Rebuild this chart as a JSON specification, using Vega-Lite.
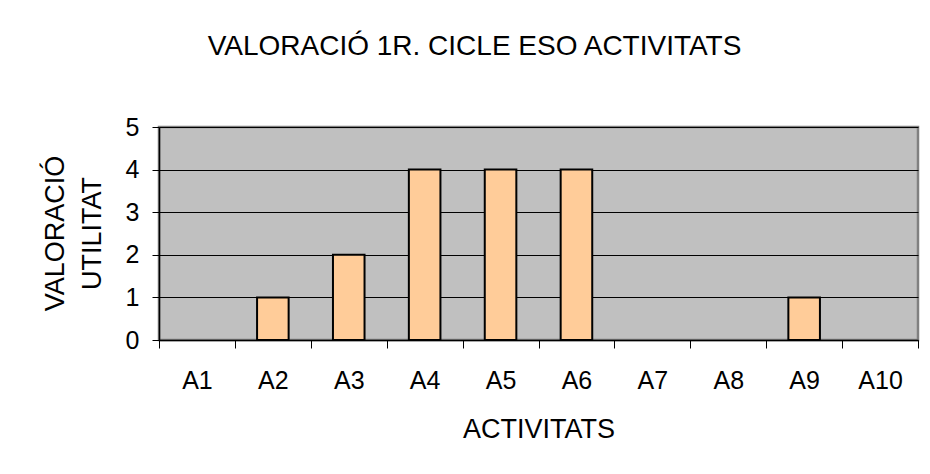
{
  "$schema": "https://vega.github.io/schema/vega-lite/v6.json",
  "autosize": {"type": "none"},
  "width": 759,
  "height": 213,
  "padding": {"left": 159, "top": 127, "right": 12, "bottom": 134},
  "background": "white",
  "title": {
    "text": "VALORACIÓ 1R. CICLE ESO ACTIVITATS",
    "font": "Liberation Sans",
    "fontSize": 28,
    "fontWeight": "normal",
    "color": "black",
    "anchor": "middle",
    "frame": "group",
    "baseline": "alphabetic",
    "offset": 32,
    "dx": -64
  },
  "data": {
    "values": [
      {"activitat": "A1", "valor": 0},
      {"activitat": "A2", "valor": 1},
      {"activitat": "A3", "valor": 2},
      {"activitat": "A4", "valor": 4},
      {"activitat": "A5", "valor": 4},
      {"activitat": "A6", "valor": 4},
      {"activitat": "A7", "valor": 0},
      {"activitat": "A8", "valor": 0},
      {"activitat": "A9", "valor": 1},
      {"activitat": "A10", "valor": 0}
    ]
  },
  "mark": {"type": "bar", "fill": "#FFCC99", "stroke": "black", "strokeWidth": 2, "width": {"band": 0.416}},
  "encoding": {
    "strokeOpacity": {"condition": {"test": "datum.valor > 0", "value": 1}, "value": 0},
    "x": {
      "field": "activitat",
      "type": "nominal",
      "sort": null,
      "scale": {"domain": ["A1","A2","A3","A4","A5","A6","A7","A8","A9","A10"], "paddingInner": 0, "paddingOuter": 0},
      "axis": {
        "title": "ACTIVITATS",
        "titleFont": "Liberation Sans",
        "titleFontSize": 27,
        "titleFontWeight": "normal",
        "titleColor": "black",
        "titleBaseline": "alphabetic",
        "titleY": 97,
        "labelAngle": 0,
        "labelFont": "Liberation Sans",
        "labelFontSize": 25,
        "labelColor": "black",
        "labelBaseline": "alphabetic",
        "labelPadding": 40,
        "tickBand": "extent",
        "tickSize": 8,
        "tickColor": "black",
        "domainColor": "black",
        "domainWidth": 1.5,
        "grid": false
      }
    },
    "y": {
      "field": "valor",
      "type": "quantitative",
      "scale": {"domain": [0, 5], "nice": false},
      "axis": {
        "title": ["VALORACIÓ", "UTILITAT"],
        "titleFont": "Liberation Sans",
        "titleFontSize": 27,
        "titleFontWeight": "normal",
        "titleColor": "black",
        "titleBaseline": "alphabetic",
        "titleAlign": "center",
        "titleAngle": -90,
        "titleLineHeight": 37,
        "titleX": -96,
        "titleY": 106,
        "values": [0, 1, 2, 3, 4, 5],
        "labelFont": "Liberation Sans",
        "labelFontSize": 25,
        "labelColor": "black",
        "labelPadding": 13,
        "tickSize": 7,
        "tickColor": "black",
        "domainColor": "black",
        "domainWidth": 1.5,
        "grid": true,
        "gridColor": "black",
        "gridWidth": 1
      }
    }
  },
  "config": {
    "view": {"fill": "#C0C0C0", "stroke": "#808080", "strokeWidth": 2.5}
  }
}
